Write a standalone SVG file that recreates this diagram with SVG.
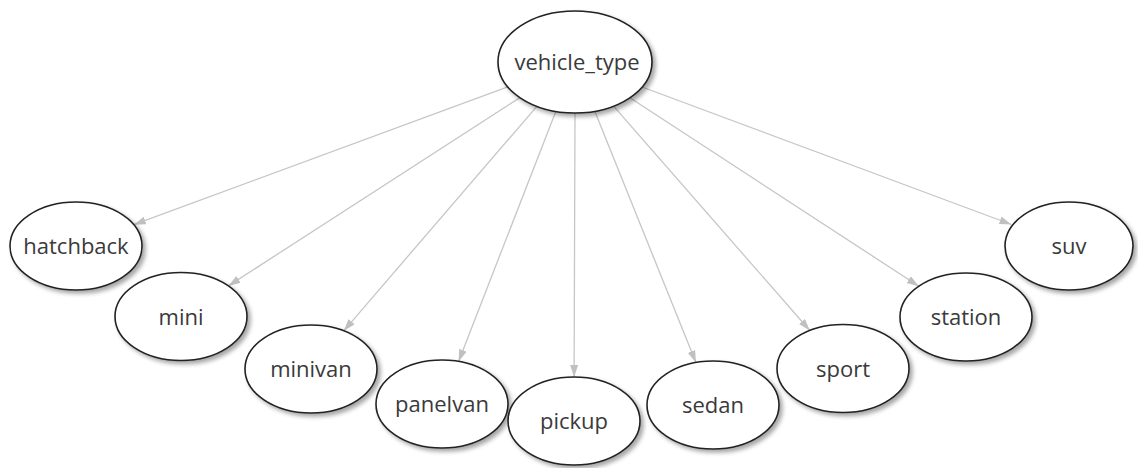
<svg xmlns="http://www.w3.org/2000/svg" width="1138" height="468" viewBox="0 0 1138 468">
  <defs>
    <style>
      .node ellipse { fill: #ffffff; stroke: #222222; stroke-width: 1.6; filter: url(#shadow); }
      .node text { font-family: "Open Sans", "Noto Sans", sans-serif; font-size: 22px; fill: #3a3a3a; text-anchor: middle; }
      .edges line { stroke: #c6c6c6; stroke-width: 1.3; marker-end: url(#arrow); }
    </style>
    <filter id="shadow" x="-20%" y="-20%" width="150%" height="150%">
      <feDropShadow dx="3" dy="3" stdDeviation="2" flood-color="#000000" flood-opacity="0.35"/>
    </filter>
    <marker id="arrow" markerUnits="userSpaceOnUse" markerWidth="13" markerHeight="9" refX="12" refY="4" orient="auto">
      <path d="M0,0 L12,4 L0,8 z" fill="#c0c0c0"/>
    </marker>
  </defs>

  <!-- connectors from the root to each category -->
  <g id="edges" class="edges">
    <line x1="507.7" y1="86.8" x2="133.8" y2="224.7"/>
    <line x1="519.9" y1="97.6" x2="228.4" y2="285.9"/>
    <line x1="536.9" y1="106.3" x2="343.8" y2="330.8"/>
    <line x1="555.8" y1="111.4" x2="458.6" y2="361.4"/>
    <line x1="575" y1="113" x2="574.1" y2="377"/>
    <line x1="594.8" y1="111.3" x2="695.9" y2="362.5"/>
    <line x1="613.6" y1="106.1" x2="809.8" y2="330.5"/>
    <line x1="629.9" y1="97.8" x2="918.8" y2="286.2"/>
    <line x1="642.1" y1="87.0" x2="1011.4" y2="224.5"/>
  </g>

  <g id="vehicle_type" class="node">
    <ellipse cx="575" cy="62" rx="77" ry="51"/>
    <text x="577" y="70">vehicle_type</text>
  </g>
  <g id="hatchback" class="node">
    <ellipse cx="76" cy="246" rx="66" ry="44"/>
    <text x="76" y="254">hatchback</text>
  </g>
  <g id="mini" class="node">
    <ellipse cx="181" cy="316.5" rx="66" ry="44"/>
    <text x="181" y="324.5">mini</text>
  </g>
  <g id="minivan" class="node">
    <ellipse cx="311" cy="369" rx="66" ry="44"/>
    <text x="311" y="377">minivan</text>
  </g>
  <g id="panelvan" class="node">
    <ellipse cx="442" cy="404" rx="66" ry="44"/>
    <text x="442" y="412">panelvan</text>
  </g>
  <g id="pickup" class="node">
    <ellipse cx="574" cy="421" rx="66" ry="44"/>
    <text x="574" y="429">pickup</text>
  </g>
  <g id="sedan" class="node">
    <ellipse cx="713" cy="405" rx="66" ry="44"/>
    <text x="713" y="413">sedan</text>
  </g>
  <g id="sport" class="node">
    <ellipse cx="843" cy="368.5" rx="66" ry="44"/>
    <text x="843" y="376.5">sport</text>
  </g>
  <g id="station" class="node">
    <ellipse cx="966" cy="317" rx="66" ry="44"/>
    <text x="966" y="325">station</text>
  </g>
  <g id="suv" class="node">
    <ellipse cx="1069" cy="246" rx="64" ry="44"/>
    <text x="1069" y="254">suv</text>
  </g>
</svg>
